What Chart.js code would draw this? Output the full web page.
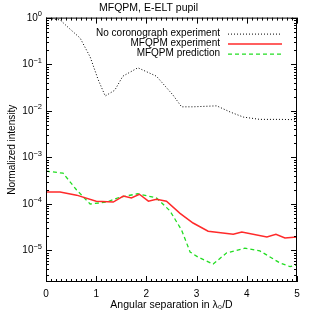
<!DOCTYPE html>
<html lang="en">
<head>
  <meta charset="UTF-8">
  <title>MFQPM, E-ELT pupil</title>
  <script src="https://cdn.jsdelivr.net/npm/chart.js"></script>
  <style>
    body {
      margin: 0;
      background: #fff;
    }
    .wrap {
      width: 313px;
      height: 313px;
    }
  </style>
</head>
<body>
  <div class="wrap">
    <canvas id="profile"></canvas>
  </div>

  <script>
    // angular separation (lambda0/D) and normalized intensity
    const sepNoCoro = [0, 0.28, 0.48, 0.68, 0.88, 1.04, 1.18, 1.37, 1.53, 1.83, 2.2, 2.53, 2.7, 2.93, 3.4, 3.67, 3.93, 4.26, 4.66, 5.0];
    const noCoro = [1.0, 0.91, 0.575, 0.37, 0.145, 0.047, 0.021, 0.028, 0.056, 0.085, 0.056, 0.022, 0.0123, 0.0123, 0.0129, 0.0095, 0.0074, 0.0066, 0.0066, 0.0065];

    const sepExp = [0, 0.28, 0.61, 1.0, 1.34, 1.54, 1.7, 1.86, 2.04, 2.2, 2.4, 2.67, 2.93, 3.23, 3.73, 3.9, 4.4, 4.58, 4.76, 5.0];
    const mfqpmExp = [1.82e-4, 1.8e-4, 1.55e-4, 1.15e-4, 1.1e-4, 1.48e-4, 1.35e-4, 1.62e-4, 1.15e-4, 1.26e-4, 1.15e-4, 6.3e-5, 3.9e-5, 2.6e-5, 2.24e-5, 2.5e-5, 1.95e-5, 2.24e-5, 1.86e-5, 1.95e-5];

    const sepPred = [0, 0.34, 0.61, 0.88, 1.21, 1.47, 1.83, 2.2, 2.47, 2.7, 2.87, 3.03, 3.33, 3.6, 3.96, 4.26, 4.66, 4.86, 5.0];
    const mfqpmPred = [5.1e-4, 4.6e-4, 2.0e-4, 1.0e-4, 1.1e-4, 1.4e-4, 1.66e-4, 1.35e-4, 7.1e-5, 2.75e-5, 9.3e-6, 7.2e-6, 5.1e-6, 8.9e-6, 1.12e-5, 9.8e-6, 5.4e-6, 4.5e-6, 4.9e-6];

    const seriesLabels = ['No coronograph experiment', 'MFQPM experiment', 'MFQPM prediction'];
    const xTickLabels = ['0', '1', '2', '3', '4', '5'];
    const yDecades = [1e-5, 1e-4, 1e-3, 1e-2, 1e-1, 1];
    const yExponents = ['−5', '−4', '−3', '−2', '−1', '0'];

    const FONT = '"Liberation Sans", Arial, sans-serif';

    function pairs(xs, ys) {
      return xs.map((x, i) => ({ x: x, y: ys[i] }));
    }

    // IDL-style box with inward ticks on all four sides, plus 10^n labels
    const boxTicks = {
      id: 'boxTicks',
      afterDraw(chart) {
        const { ctx, chartArea: a, scales } = chart;
        const xs = scales.x, ys = scales.y;
        ctx.save();
        ctx.strokeStyle = '#000';
        ctx.lineWidth = 1;
        ctx.strokeRect(a.left + 0.5, a.top + 0.5, a.right - a.left - 1, a.bottom - a.top - 1);
        ctx.beginPath();
        for (let i = 0; i <= 50; i++) {
          const px = Math.round(xs.getPixelForValue(i / 10)) + 0.5;
          const len = i % 10 === 0 ? 6 : 3;
          ctx.moveTo(px, a.bottom); ctx.lineTo(px, a.bottom - len);
          ctx.moveTo(px, a.top); ctx.lineTo(px, a.top + len);
        }
        for (let e = -6; e <= 0; e++) {
          for (let m = 1; m <= 9; m++) {
            const v = m * Math.pow(10, e);
            if (v < ys.min || v > ys.max) continue;
            const py = Math.round(ys.getPixelForValue(v)) + 0.5;
            const len = m === 1 ? 6 : 3;
            ctx.moveTo(a.left, py); ctx.lineTo(a.left + len, py);
            ctx.moveTo(a.right, py); ctx.lineTo(a.right - len, py);
          }
        }
        ctx.stroke();

        // y tick labels: "10" with a raised, smaller exponent
        ctx.fillStyle = '#000';
        ctx.textAlign = 'right';
        ctx.textBaseline = 'middle';
        yDecades.forEach((v, i) => {
          const py = ys.getPixelForValue(v);
          const right = a.left - 4;
          ctx.font = '7.5px ' + FONT;
          const w = ctx.measureText(yExponents[i]).width;
          ctx.fillText(yExponents[i], right, py - 4);
          ctx.font = '10px ' + FONT;
          ctx.fillText('10', right - w, py);
        });
        ctx.restore();
      }
    };

    // legend inside the plot: right-aligned text followed by a line sample
    const insideLegend = {
      id: 'insideLegend',
      afterDatasetsDraw(chart) {
        const { ctx, chartArea: a } = chart;
        ctx.save();
        ctx.font = '10px ' + FONT;
        ctx.textAlign = 'right';
        ctx.textBaseline = 'middle';
        chart.data.datasets.forEach((ds, i) => {
          const y = a.top + 16 + i * 10;
          ctx.fillStyle = '#000';
          ctx.fillText(ds.label, a.right - 77, y);
          ctx.strokeStyle = ds.borderColor;
          ctx.lineWidth = ds.borderWidth;
          ctx.setLineDash(ds.borderDash || []);
          ctx.beginPath();
          ctx.moveTo(a.right - 69, y + 0.5);
          ctx.lineTo(a.right - 15, y + 0.5);
          ctx.stroke();
        });
        ctx.restore();
      }
    };

    new Chart(document.getElementById('profile'), {
      type: 'line',
      data: {
        datasets: [
          {
            label: seriesLabels[0],
            data: pairs(sepNoCoro, noCoro),
            borderColor: '#000',
            borderWidth: 1,
            borderDash: [1, 2]
          },
          {
            label: seriesLabels[1],
            data: pairs(sepExp, mfqpmExp),
            borderColor: '#ff2a2a',
            borderWidth: 1.5
          },
          {
            label: seriesLabels[2],
            data: pairs(sepPred, mfqpmPred),
            borderColor: '#22dd22',
            borderWidth: 1.3,
            borderDash: [4, 3]
          }
        ]
      },
      options: {
        responsive: true,
        maintainAspectRatio: false,
        animation: false,
        elements: { point: { radius: 0 }, line: { tension: 0 } },
        layout: { padding: { left: 0, right: 16, top: 0, bottom: 0 } },
        plugins: {
          legend: { display: false },
          tooltip: { enabled: false },
          title: {
            display: true,
            text: 'MFQPM, E-ELT pupil',
            color: '#000',
            font: { family: FONT, size: 10.5, weight: 'normal' },
            padding: { top: 2, bottom: 3 }
          }
        },
        scales: {
          x: {
            type: 'linear',
            min: 0,
            max: 5,
            grid: { display: false, drawTicks: false },
            border: { display: false },
            afterBuildTicks(scale) {
              scale.ticks = xTickLabels.map(t => ({ value: Number(t) }));
            },
            ticks: {
              color: '#000',
              padding: 6,
              maxRotation: 0,
              font: { family: FONT, size: 10 },
              callback: (v, i) => xTickLabels[i]
            },
            title: {
              display: true,
              text: 'Angular separation in λ₀/D',
              color: '#000',
              font: { family: FONT, size: 10.5 },
              padding: { top: 0, bottom: 2 }
            },
            afterFit(scale) { scale.height = 31; }
          },
          y: {
            type: 'logarithmic',
            min: 2.1e-6,
            max: 1.02,
            grid: { display: false, drawTicks: false },
            border: { display: false },
            afterBuildTicks(scale) {
              scale.ticks = yDecades.map(v => ({ value: v }));
            },
            ticks: {
              display: false
            },
            title: {
              display: true,
              text: 'Normalized intensity',
              color: '#000',
              font: { family: FONT, size: 10 },
              padding: { top: 6, bottom: 0 }
            },
            afterFit(scale) { scale.width = 46; }
          }
        }
      },
      plugins: [boxTicks, insideLegend]
    });
  </script>
</body>
</html>
